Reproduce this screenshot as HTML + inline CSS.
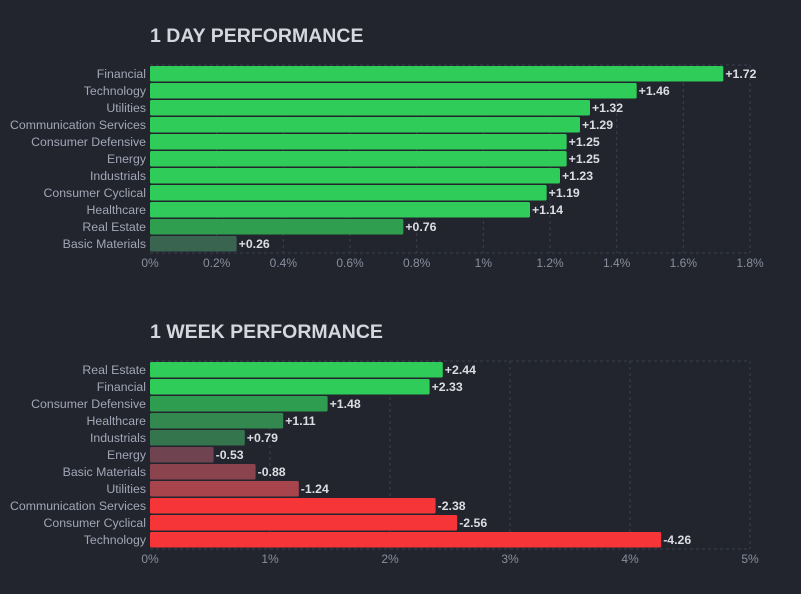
<!DOCTYPE html>
<html><head><meta charset="utf-8"><style>
html,body{margin:0;padding:0;background:#22252e;}
svg{display:block;font-family:"Liberation Sans",sans-serif;}
</style></head><body>
<svg id="svg" width="801" height="594"></svg>
<script>
const dayCategories=["Financial","Technology","Utilities","Communication Services","Consumer Defensive","Energy","Industrials","Consumer Cyclical","Healthcare","Real Estate","Basic Materials"];
const dayValues=[1.72,1.46,1.32,1.29,1.25,1.25,1.23,1.19,1.14,0.76,0.26];
const dayTicks=[0,0.2,0.4,0.6,0.8,1,1.2,1.4,1.6,1.8];
const weekCategories=["Real Estate","Financial","Consumer Defensive","Healthcare","Industrials","Energy","Basic Materials","Utilities","Communication Services","Consumer Cyclical","Technology"];
const weekValues=[2.44,2.33,1.48,1.11,0.79,-0.53,-0.88,-1.24,-2.38,-2.56,-4.26];
const weekTicks=[0,1,2,3,4,5];

const NS="http://www.w3.org/2000/svg";
const svg=document.getElementById('svg');
function mk(tag,attrs,parent){const e=document.createElementNS(NS,tag);for(const k in attrs)e.setAttribute(k,attrs[k]);(parent||svg).appendChild(e);return e;}
function hex(c){return [parseInt(c.slice(1,3),16),parseInt(c.slice(3,5),16),parseInt(c.slice(5,7),16)];}
function lerp(a,b,t){const A=hex(a),B=hex(b);return 'rgb('+A.map((v,i)=>Math.round(v+(B[i]-v)*t)).join(',')+')';}
function color(v){
  const gs=[[0,'#414554'],[0.8,'#35764e'],[1.5,'#2f9e4f'],[2.3,'#30cc5a']];
  const rs=[[0,'#414554'],[0.5,'#6d4450'],[0.88,'#8b444e'],[1.24,'#a8454c'],[2.3,'#f63538']];
  const s=v>=0?gs:rs;const a=Math.abs(v);
  if(a>=s[s.length-1][0])return s[s.length-1][1];
  for(let i=1;i<s.length;i++){if(a<=s[i][0]){return lerp(s[i-1][1],s[i][1],(a-s[i-1][0])/(s[i][0]-s[i-1][0]));}}
}
function chart(opts){
  const g=mk('g',{});
  
  
  const x0=150,x1=750,maxT=opts.ticks[opts.ticks.length-1];
  const xs=v=>x0+(Math.abs(v)/maxT)*(x1-x0);
  const top=opts.top,pitch=17,bottom=top+pitch*opts.cats.length+1;
  const t=mk('text',{x:150,y:top-23,fill:'#d5d7de','font-size':19.5,'font-weight':'bold'},g);
  t.textContent=opts.title;
  
  
  mk('line',{x1:x0,x2:x1,y1:top,y2:top,stroke:'#3a3e4a','stroke-dasharray':'3,3'},g);
  mk('line',{x1:x0,x2:x1,y1:bottom,y2:bottom,stroke:'#3a3e4a','stroke-dasharray':'3,3'},g);
  opts.ticks.forEach((tv,i)=>{
    const x=xs(tv);
    if(i>0){const gl=mk('line',{x1:x,x2:x,y1:top,y2:bottom,stroke:'#3a3e4a','stroke-dasharray':'3,3'},g);
      }
    const tl=mk('text',{x:x,y:bottom+14,fill:'#8a8e9e','font-size':12,'text-anchor':'middle'},g);
    tl.textContent=tv+'%';
    
    
  });
  opts.cats.forEach((c,i)=>{
    const v=opts.vals[i];const y=top+1+i*pitch;
    const r=mk('rect',{x:x0,y:y,width:xs(v)-x0,height:pitch-1.5,rx:1.5,fill:color(v*opts.scale)},g);
    
    
    const l=mk('text',{x:x0-4,y:y+12,fill:'#a3a6b6','font-size':12.3,'text-anchor':'end'},g);
    l.textContent=c;
    
    
    const vl=mk('text',{x:xs(v)+2,y:y+12,fill:'#dcdde2','font-size':12.3,'font-weight':'bold'},g);
    vl.textContent=(v>=0?'+':'')+v.toFixed(2);
    
    
  });
}
chart({name:'day-performance-chart',title:'1 DAY PERFORMANCE',cats:dayCategories,vals:dayValues,ticks:dayTicks,top:65,scale:2});
chart({name:'week-performance-chart',title:'1 WEEK PERFORMANCE',cats:weekCategories,vals:weekValues,ticks:weekTicks,top:361,scale:1});
</script>
</body></html>
